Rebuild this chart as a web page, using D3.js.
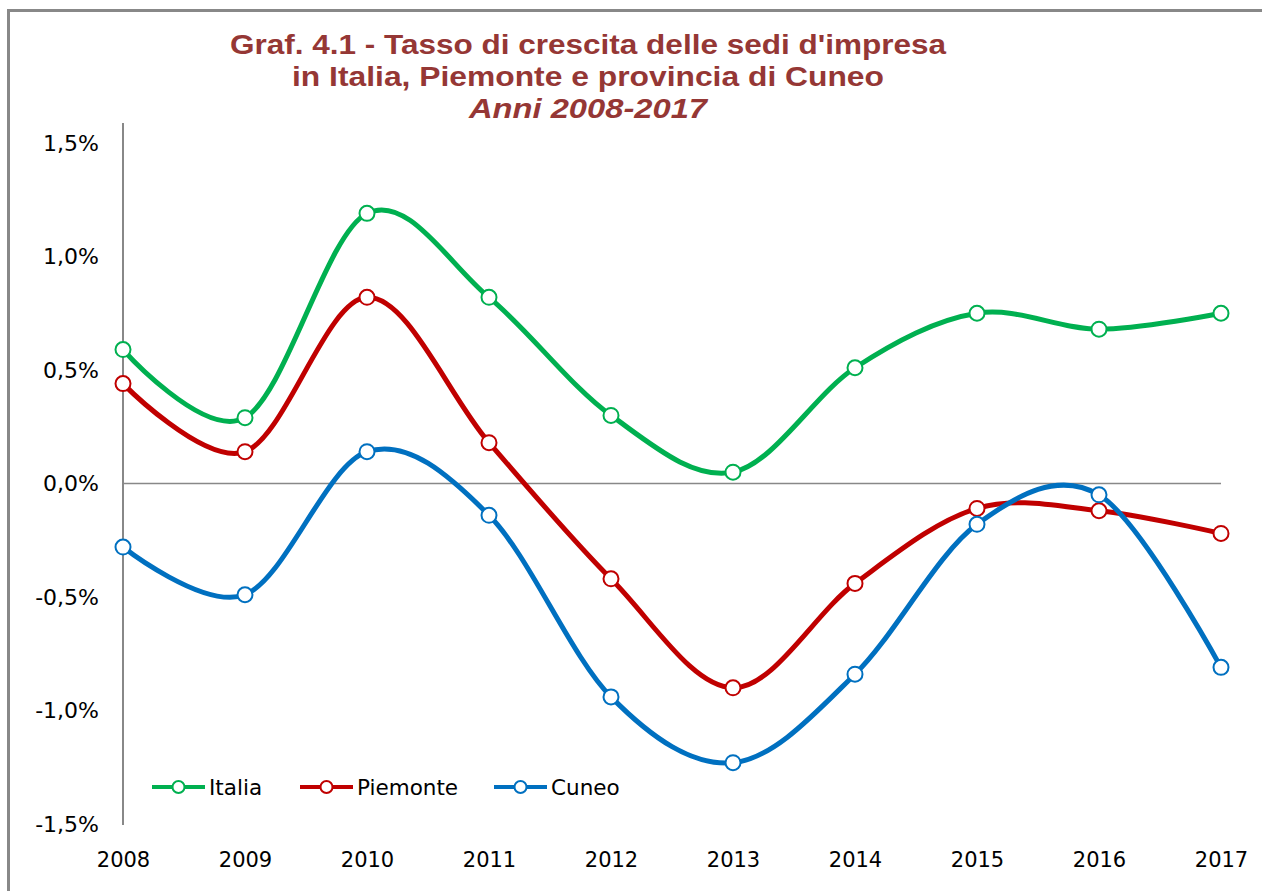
<!DOCTYPE html>
<html>
<head>
<meta charset="utf-8">
<script src="https://cdn.jsdelivr.net/npm/d3@7"></script>
<style>
  body { margin: 0; background: #fff; }
  svg text { font-family: "DejaVu Sans", Verdana, sans-serif; }
</style>
</head>
<body>
<svg id="chart" width="1262" height="891"></svg>
<script>
const years = [2008, 2009, 2010, 2011, 2012, 2013, 2014, 2015, 2016, 2017];
const italia = [0.59, 0.29, 1.19, 0.82, 0.30, 0.05, 0.51, 0.75, 0.68, 0.75];
const piemonte = [0.44, 0.14, 0.82, 0.18, -0.42, -0.90, -0.44, -0.11, -0.12, -0.22];
const cuneo = [-0.28, -0.49, 0.14, -0.14, -0.94, -1.23, -0.84, -0.18, -0.05, -0.81];
const yTicks = [1.5, 1.0, 0.5, 0.0, -0.5, -1.0, -1.5];
const seriesNames = ["Italia", "Piemonte", "Cuneo"];
const seriesColors = ["#00B050", "#C00000", "#0070C0"];

const series = [italia, piemonte, cuneo].map((v, i) => ({name: seriesNames[i], color: seriesColors[i], values: v}));

const svg = d3.select("#chart");

// outer frame
svg.append("rect")
  .attr("x", 8.5).attr("y", 10.5)
  .attr("width", 1262).attr("height", 900)
  .attr("fill", "none").attr("stroke", "#888").attr("stroke-width", 3);

// title
const titleColor = "#953735";
const title = svg.append("g").attr("font-weight", "bold").attr("fill", titleColor);
title.append("text").attr("x", 588).attr("y", 54).attr("text-anchor", "middle")
  .style("font-family", "'Liberation Sans', Arial, sans-serif").attr("font-size", 27)
  .attr("textLength", 716).attr("lengthAdjust", "spacingAndGlyphs")
  .text("Graf. 4.1 - Tasso di crescita delle sedi d'impresa");
title.append("text").attr("x", 588).attr("y", 86).attr("text-anchor", "middle")
  .style("font-family", "'Liberation Sans', Arial, sans-serif").attr("font-size", 27)
  .attr("textLength", 592).attr("lengthAdjust", "spacingAndGlyphs")
  .text("in Italia, Piemonte e provincia di Cuneo");
title.append("text").attr("x", 588).attr("y", 118).attr("text-anchor", "middle")
  .style("font-family", "'Liberation Sans', Arial, sans-serif").attr("font-size", 27)
  .attr("font-style", "italic")
  .attr("textLength", 238).attr("lengthAdjust", "spacingAndGlyphs")
  .text("Anni 2008-2017");

const x = d3.scalePoint().domain(years).range([123, 1221]);
const y = d3.scaleLinear().domain([-1.5, 1.5]).range([824, 143]);

const fmt = v => d3.format(".1f")(v).replace(".", ",").replace("−", "-") + "%";

// y axis
const yAxis = svg.append("g").attr("transform", "translate(123,0)")
  .call(d3.axisLeft(y).tickValues(yTicks).tickSize(0).tickPadding(24).tickFormat(fmt));
yAxis.select(".domain").remove();
yAxis.selectAll("text").attr("font-size", 22).attr("fill", "#000")
  .style("font-family", "'DejaVu Sans', Verdana, sans-serif");
svg.append("line").attr("x1", 123).attr("x2", 123).attr("y1", 123).attr("y2", 825)
  .attr("stroke", "#888").attr("stroke-width", 2);

// zero line
svg.append("line").attr("x1", 123).attr("x2", 1221).attr("y1", y(0)).attr("y2", y(0))
  .attr("stroke", "#888").attr("stroke-width", 1.5);

// x axis labels
const xAxis = svg.append("g").attr("transform", "translate(0,824)")
  .call(d3.axisBottom(x).tickSize(0).tickPadding(28));
xAxis.select(".domain").remove();
xAxis.selectAll("text").attr("font-size", 21).attr("fill", "#000")
  .style("font-family", "'DejaVu Sans', Verdana, sans-serif");

// lines
const line = d3.line()
  .x((d, i) => x(years[i]))
  .y(d => y(d))
  .curve(d3.curveCatmullRom.alpha(0));

series.forEach(s => {
  svg.append("path").datum(s.values)
    .attr("d", line).attr("fill", "none")
    .attr("stroke", s.color).attr("stroke-width", 5)
    .attr("stroke-linejoin", "round");
  svg.append("g").selectAll("circle").data(s.values).join("circle")
    .attr("cx", (d, i) => x(years[i])).attr("cy", d => y(d)).attr("r", 7.5)
    .attr("fill", "#fff").attr("stroke", s.color).attr("stroke-width", 2);
});

// legend
const legendX = [152, 300, 494];
const legend = svg.append("g");
series.forEach((s, i) => {
  const g = legend.append("g").attr("transform", `translate(${legendX[i]},787)`);
  g.append("line").attr("x1", 0).attr("x2", 53).attr("stroke", s.color).attr("stroke-width", 4);
  g.append("circle").attr("cx", 26.5).attr("r", 6).attr("fill", "#fff")
    .attr("stroke", s.color).attr("stroke-width", 2);
  g.append("text").attr("x", 57).attr("y", 8).attr("font-size", 21.5).attr("fill", "#000")
    .text(s.name);
});
</script>
</body>
</html>
